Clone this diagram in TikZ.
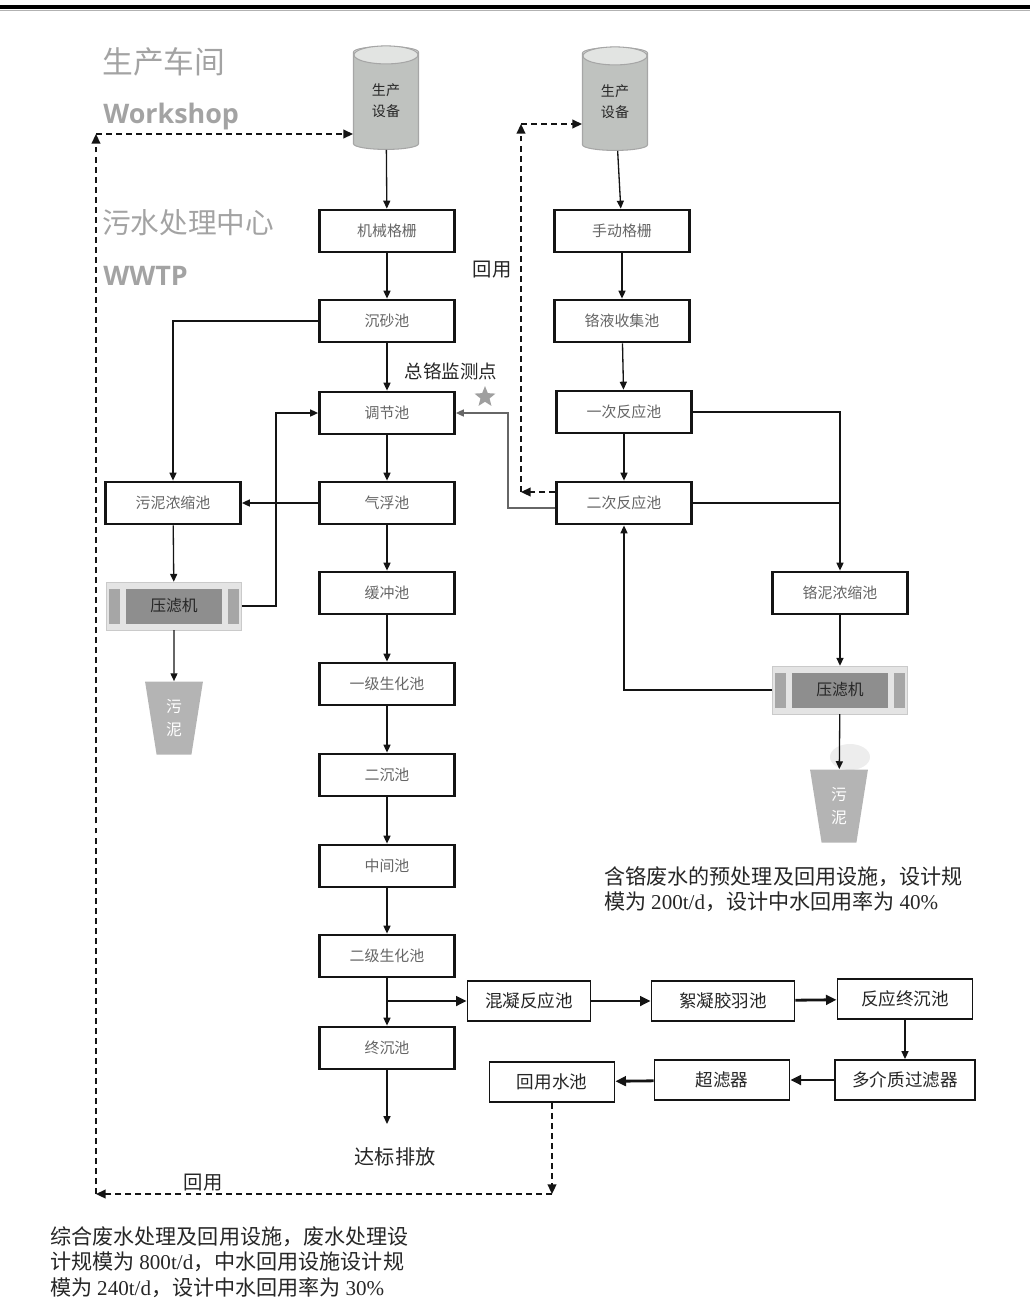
\documentclass[tikz,border=0pt]{standalone}
\usepackage{fontspec}
\setmainfont{Noto Sans CJK SC}
\newfontfamily\wordfont{Open Sans}
\newfontfamily\numfont{Liberation Serif}
\usetikzlibrary{arrows.meta,positioning,fit,shapes.geometric,backgrounds}
\definecolor{PlantInk}{HTML}{262626}
\definecolor{PlantText}{HTML}{666666}
\definecolor{PlantTitle}{HTML}{A3A3A3}
\definecolor{PlantEdge}{HTML}{141414}
\definecolor{PressCore}{HTML}{8E8E8E}
\definecolor{PressSide}{HTML}{A6A6A6}
\definecolor{PressFrame}{HTML}{E4E4E4}
\definecolor{DrumBody}{HTML}{BFC2BF}
\definecolor{DrumTop}{HTML}{E2E4E2}
\definecolor{BinGray}{HTML}{B4B4B4}
\tikzset{
  heading/.style={font=\fontsize{17.5}{20}\selectfont, text=PlantTitle, anchor=west, inner sep=0pt},
  headword/.style={font=\wordfont\bfseries\fontsize{15.3}{19}\selectfont, text=PlantTitle, anchor=base west, inner sep=0pt},
  note/.style={font=\fontsize{11}{13}\selectfont, text=PlantInk},
  caption/.style={font=\fontsize{12}{14.6}\selectfont, text=PlantInk, align=left, anchor=north west, inner sep=0pt},
  tankbox/.style={draw=PlantEdge, line width=1.6pt, fill=white, minimum width=2.7cm, minimum height=0.84cm, inner sep=0pt, font=\fontsize{8.5}{10}\selectfont, text=PlantText},
  reusebox/.style={draw=PlantEdge, line width=1.1pt, fill=white, minimum height=0.8cm, inner sep=0pt, font=\fontsize{10}{12}\selectfont, text=PlantInk},
  drum/.style={cylinder, shape border rotate=90, aspect=0.4, draw=gray!70, line width=0.6pt, cylinder uses custom fill, cylinder body fill=DrumBody, cylinder end fill=DrumTop, minimum width=1.3cm, minimum height=2.06cm, inner sep=0pt, align=center, font=\fontsize{8}{12}\selectfont, text=PlantInk},
  drumlid/.style={fill=DrumTop, draw=gray!70, line width=0.6pt},
  presscore/.style={fill=PressCore, minimum width=1.94cm, minimum height=0.7cm, inner sep=0pt, font=\fontsize{9}{11}\selectfont, text=PlantInk},
  pressside/.style={fill=PressSide, minimum width=0.22cm, minimum height=0.7cm, inner sep=0pt},
  pressframe/.style={fill=PressFrame, draw=PressSide!60, line width=0.4pt, inner xsep=0.04cm, inner ysep=0.12cm},
  bin/.style={trapezium, shape border rotate=180, trapezium angle=82, trapezium stretches=true, minimum width=1.16cm, minimum height=1.46cm, fill=BinGray, inner sep=0pt, align=center, font=\fontsize{9}{13}\selectfont, text=white},
  flow/.style={-{Triangle[length=4.5pt,width=4pt]}, line width=0.75pt, draw=PlantEdge},
  flowline/.style={line width=0.75pt, draw=PlantEdge},
  flowbold/.style={-{Triangle[length=6pt,width=5.5pt]}, line width=1.6pt, draw=PlantEdge},
  recycle/.style={-{Triangle[length=5.5pt,width=5pt]}, line width=1pt, dash pattern=on 3.4pt off 2.3pt, draw=PlantEdge}
}

\begin{document}
\begin{tikzpicture}[x=0.02cm, y=-0.02cm]
\useasboundingbox (0,0) rectangle (1030,1316);
\draw[line width=2.3pt] (0,7) -- (1030,7);
\draw[gray!60, line width=0.4pt] (0,10.5) -- (1030,10.5);

\node[heading] (shop) at (102,62) {生产车间};
\node[headword] (shopen) at (103,123) {Workshop};
\node[heading, font=\fontsize{16.3}{19}\selectfont] (wwtp) at (102,223) {污水处理中心};
\node[headword] (wwtpen) at (103,285) {WWTP};

% production drums
\node[drum] (drumA) at (386,101) {生产\\设备};
\node[drum] (drumB) at (615,102) {生产\\设备};
\path[drumlid] ([yshift=-0.18cm]drumA.north) ellipse (32 and 9);
\path[drumlid] ([yshift=-0.18cm]drumB.north) ellipse (32 and 9);

% main treatment line
\node[tankbox] (screen) at (387,231) {机械格栅};
\node[tankbox] (grit) at (387,321) {沉砂池};
\node[tankbox] (equal) at (387,413) {调节池};
\node[tankbox] (flot) at (387,503) {气浮池};
\node[tankbox] (buffer) at (387,593) {缓冲池};
\node[tankbox] (bioA) at (387,684) {一级生化池};
\node[tankbox] (settle) at (387,775) {二沉池};
\node[tankbox] (middle) at (387,866) {中间池};
\node[tankbox] (bioB) at (387,956) {二级生化池};
\node[tankbox] (final) at (387,1048) {终沉池};
\coordinate (outlet) at (387,1124);
\node[note, font=\fontsize{11.5}{13}\selectfont] (discharge) at (395,1157) {达标排放};

% sludge side
\node[tankbox] (sludge) at (173,503) {污泥浓缩池};
\node[presscore] (pressA) at (174,606) {压滤机};
\node[pressside, left=0.1cm of pressA] (pressAl) {};
\node[pressside, right=0.1cm of pressA] (pressAr) {};
\begin{scope}[on background layer]
\node[pressframe, fit=(pressAl)(pressAr)] (pressAf) {};
\end{scope}
\node[bin] (binA) at (174,718) {污\\泥};

% chromium line
\node[tankbox] (handscr) at (622,231) {手动格栅};
\node[tankbox] (crcollect) at (622,321) {铬液收集池};
\node[tankbox] (reactA) at (624,412) {一次反应池};
\node[tankbox] (reactB) at (624,503) {二次反应池};
\node[tankbox] (crsludge) at (840,593) {铬泥浓缩池};
\node[presscore] (pressB) at (840,690) {压滤机};
\node[pressside, left=0.1cm of pressB] (pressBl) {};
\node[pressside, right=0.1cm of pressB] (pressBr) {};
\begin{scope}[on background layer]
\node[pressframe, fit=(pressBl)(pressBr)] (pressBf) {};
\end{scope}
\fill[gray!14] (850,757) ellipse (20 and 13);
\node[bin] (binB) at (839,806) {污\\泥};
\node[note, font=\fontsize{10.5}{12}\selectfont] (crmon) at (451,371) {总铬监测点};
\node[star, star points=5, star point ratio=2.3, fill=gray!75, minimum size=0.44cm, inner sep=0pt] (crstar) at (485,397) {};

% reuse line
\node[reusebox, minimum width=2.46cm] (coag) at (529,1001) {混凝反应池};
\node[reusebox, minimum width=2.86cm] (floc) at (723,1001) {絮凝胶羽池};
\node[reusebox, minimum width=2.7cm] (rsettle) at (905,999) {反应终沉池};
\node[reusebox, minimum width=2.8cm] (media) at (905,1080) {多介质过滤器};
\node[reusebox, minimum width=2.7cm] (ultra) at (722,1080) {超滤器};
\node[reusebox, minimum width=2.5cm] (reuse) at (552,1082) {回用水池};

\node[caption] (crnote) at (604,866) {含铬废水的预处理及回用设施，设计规\\模为 {\numfont 200t/d}，设计中水回用率为 {\numfont 40\%}};
\node[caption] (mainnote) at (50,1226) {综合废水处理及回用设施，废水处理设\\计规模为 {\numfont 800t/d}，中水回用设施设计规\\模为 {\numfont 240t/d}，设计中水回用率为 {\numfont 30\%}};

% main flow
\draw[flow] (drumA) -- (screen);
\draw[flow] (screen) -- (grit);
\draw[flow] (grit) -- (equal);
\draw[flow] (equal) -- (flot);
\draw[flow] (flot) -- (buffer);
\draw[flow] (buffer) -- (bioA);
\draw[flow] (bioA) -- (settle);
\draw[flow] (settle) -- (middle);
\draw[flow] (middle) -- (bioB);
\draw[flow] (bioB) -- (final);
\draw[flow] (final) -- (outlet);

\draw[flow] (grit.west) -| (sludge.north);
\draw[flow] (flot) -- (sludge);
\draw[flow] (sludge) -- (pressAf);
\draw[flow] (pressAf.east) -- ++(34,0) |- (equal.west);
\draw[flow] (pressAf) -- (binA);

\draw[flow] (drumB) -- (handscr);
\draw[flow] (handscr) -- (crcollect);
\draw[flow] (crcollect) -- (reactA);
\draw[flow] (reactA) -- (reactB);
\draw[flow] (reactA.east) -| (crsludge.north);
\draw[flowline] (reactB.east) -- (reactB.east -| crsludge.north);
\draw[flow] (crsludge) -- (pressBf);
\draw[flow] (pressBf.west) -| (reactB.south);
\draw[flow] (pressBf) -- (binB);
\coordinate (crOut) at (508,508);
\draw[flow, draw=PlantText] (reactB.west |- crOut) -- (crOut) |- (equal.east);

\draw[flowbold] (bioB.south |- coag.west) -- (coag.west);
\draw[flowbold] (coag) -- (floc);
\draw[flowbold] (floc) -- (rsettle);
\draw[flow] (rsettle) -- (media);
\draw[flowbold] (media) -- (ultra);
\draw[flowbold] (ultra) -- (reuse);

% water reuse loops
\coordinate (backR) at (552,1194);
\coordinate (backL) at (96,1194);
\coordinate (backT) at (96,134);
\draw[recycle] (reuse) -- (backR);
\draw[recycle] (backR) -- (backL);
\draw[recycle] (backL) -- (backT);
\draw[recycle] (backT) -- (backT -| drumA.west);
\node[note] (reuseL) at (203,1183) {回用};

\coordinate (crB) at (521,492);
\coordinate (crT) at (521,124);
\draw[recycle] (reactB.west |- crB) -- (crB);
\draw[recycle] (crB) -- (crT);
\draw[recycle] (crT) -- (crT -| drumB.west);
\node[note] (reuseU) at (492,270) {回用};
\end{tikzpicture}
\end{document}
